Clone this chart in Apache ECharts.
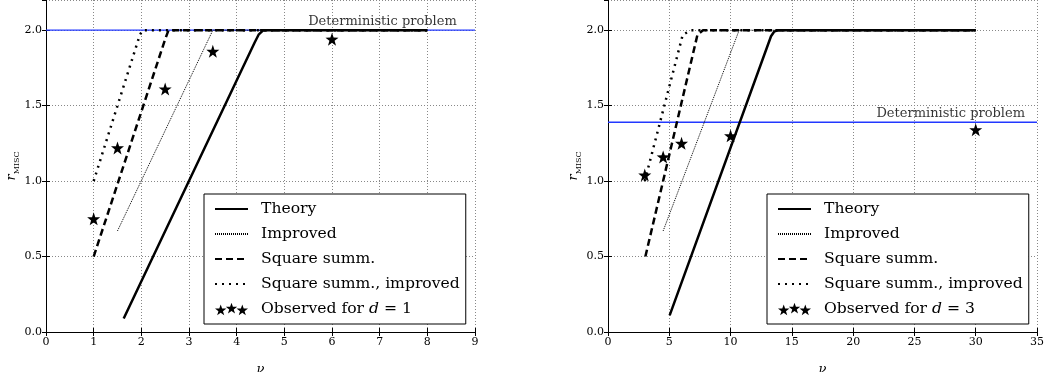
<!DOCTYPE html>
<html>
<head>
<meta charset="utf-8">
<script src="https://cdn.jsdelivr.net/npm/echarts@6/dist/echarts.min.js"></script>
<style>
html,body{margin:0;padding:0;background:#fff;}
#c{width:1044px;height:372px;}
</style>
</head>
<body>
<div id="c"></div>
<script>
// ---------- data: left panel (d = 1) ----------
const xTicks1 = [0, 9, 1];           // min, max, interval
const theoryNu1 = [1.63, 4.38, 4.46, 4.56, 8.0];
const theoryR1  = [0.09, 1.92, 1.97, 2.0, 2.0];
const improvedNu1 = [1.5, 3.5, 8.0];
const improvedR1  = [0.67, 2.0, 2.0];
const squareNu1 = [1.0, 2.5, 2.57, 8.0];
const squareR1  = [0.5, 1.94, 2.0, 2.0];
const sqImpNu1 = [1.0, 1.97, 2.03, 8.0];
const sqImpR1  = [1.0, 1.97, 2.0, 2.0];
const obsNu1 = [1, 1.5, 2.5, 3.5, 6];
const obsR1  = [0.75, 1.22, 1.61, 1.86, 1.94];
const detR1 = 2.0;
const detLabelNu1 = 5.5;

// ---------- data: right panel (d = 3) ----------
const xTicks3 = [0, 35, 5];
const theoryNu3 = [5.03, 13.3, 13.55, 13.9, 30.0];
const theoryR3  = [0.11, 1.96, 1.99, 2.0, 2.0];
const improvedNu3 = [4.5, 10.7, 30.0];
const improvedR3  = [0.67, 2.0, 2.0];
const squareNu3 = [3.05, 7.3, 7.75, 30.0];
const squareR3  = [0.5, 1.97, 2.0, 2.0];
const sqImpNu3 = [3.0, 6.1, 6.8, 30.0];
const sqImpR3  = [1.0, 1.97, 2.0, 2.0];
const obsNu3 = [3, 4.5, 6, 10, 30];
const obsR3  = [1.04, 1.16, 1.25, 1.30, 1.34];
const detR3 = 1.39;
const detLabelNu3 = 21.9;

const yRange = [0, 2.2, 0.5];
const names = ['Theory', 'Improved', 'Square summ.', 'Square summ., improved'];
const obsName1 = 'Observed for d = 1';
const obsName3 = 'Observed for d = 3';
const detText = 'Deterministic problem';

// ---------- styles ----------
const FONT = 'DejaVu Serif';
function starAt(dx, dy) {
  const pts = [[0,-10],[2.35,-3.24],[9.51,-3.09],[3.8,1.24],[5.88,8.09],[0,4],[-5.88,8.09],[-3.8,1.24],[-9.51,-3.09],[-2.35,-3.24]];
  return 'M' + pts.map(p => (p[0]+dx).toFixed(2) + ',' + (p[1]+dy).toFixed(2)).join('L') + 'Z';
}
const STAR = 'path://' + starAt(0, 0);
const STAR3 = 'path://' + starAt(10, 13) + starAt(28, 10) + starAt(46, 13);

const lineStyles = [
  {color: '#000', width: 2.5, type: 'solid'},
  {color: '#000', width: 1, type: [1, 1]},
  {color: '#000', width: 2.5, type: [7, 4]},
  {color: '#000', width: 2.5, type: [2, 5]}
];

const zip = (a, b) => a.map((v, i) => [v, b[i]]);

const grids = [
  {left: 46, top: 0, width: 429, height: 332, outerBoundsMode: 'none', containLabel: false},
  {left: 608, top: 0, width: 429, height: 332, outerBoundsMode: 'none', containLabel: false}
];

function xAxes(gi, t) {
  const common = {
    type: 'value', gridIndex: gi, min: t[0], max: t[1], interval: t[2]
  };
  return [
    Object.assign({}, common, {
      position: 'bottom',
      name: 'ν', nameLocation: 'middle', nameGap: 31,
      nameTextStyle: {fontFamily: FONT, fontStyle: 'italic', fontSize: 13, color: '#000'},
      axisLine: {show: true, lineStyle: {color: '#000', width: 1}},
      axisTick: {show: true, inside: true, length: 4, lineStyle: {color: '#000'}},
      axisLabel: {show: true, fontFamily: FONT, fontSize: 11, color: '#000', margin: 5},
      splitLine: {show: true, lineStyle: {color: '#888', type: [1, 2], width: 1}}
    }),
    Object.assign({}, common, {
      position: 'top',
      axisLine: {show: true, lineStyle: {color: '#000', width: 1}},
      axisTick: {show: true, inside: true, length: 4, lineStyle: {color: '#000'}},
      axisLabel: {show: false},
      splitLine: {show: false}
    })
  ];
}
function yAxes(gi) {
  const common = {
    type: 'value', gridIndex: gi, min: yRange[0], max: yRange[1], interval: yRange[2]
  };
  return [
    Object.assign({}, common, {
      position: 'left',
      name: '{r|r}{s|MISC}', nameLocation: 'middle', nameGap: 24, nameRotate: 90,
      nameTextStyle: {
        fontFamily: FONT, color: '#000',
        rich: {
          r: {fontFamily: FONT, fontStyle: 'italic', fontSize: 13, color: '#000', lineHeight: 18, verticalAlign: 'middle'},
          s: {fontFamily: FONT, fontSize: 8, color: '#000', lineHeight: 18, verticalAlign: 'bottom', padding: [5, 0, 0, 0]}
        }
      },
      axisLine: {show: true, lineStyle: {color: '#000', width: 1}},
      axisTick: {show: true, inside: true, length: 4, lineStyle: {color: '#000'}},
      axisLabel: {show: true, fontFamily: FONT, fontSize: 11, color: '#000', margin: 4,
        showMaxLabel: false, formatter: v => v.toFixed(1)},
      splitLine: {show: true, lineStyle: {color: '#888', type: [1, 2], width: 1}}
    }),
    Object.assign({}, common, {
      position: 'right',
      axisLine: {show: true, lineStyle: {color: '#000', width: 1}},
      axisTick: {show: true, inside: true, length: 4, lineStyle: {color: '#000'}},
      axisLabel: {show: false},
      splitLine: {show: false}
    })
  ];
}

function panelSeries(ax, ay, t, detR, detLabelNu, curves, obsNu, obsR, obsName) {
  const out = [];
  // deterministic (blue) horizontal line
  out.push({
    type: 'line', name: '_det' + ax, xAxisIndex: ax, yAxisIndex: ay,
    data: [[t[0], detR], [t[1], detR]],
    symbol: 'none', showSymbol: false, silent: true, animation: false,
    lineStyle: {color: '#2238ff', width: 1.3}, z: 1
  });
  out.push({
    type: 'scatter', name: '_detlabel' + ax, xAxisIndex: ax, yAxisIndex: ay,
    data: [[detLabelNu, detR]], symbol: 'circle', symbolSize: 0, silent: true, animation: false,
    itemStyle: {color: 'rgba(0,0,0,0)'},
    label: {show: true, formatter: detText, position: 'top', align: 'left', distance: 2,
      fontFamily: FONT, fontSize: 13, color: '#000'},
    z: 5
  });
  curves.forEach((c, i) => {
    out.push({
      type: 'line', name: names[i], xAxisIndex: ax, yAxisIndex: ay,
      data: zip(c[0], c[1]), symbol: 'none', showSymbol: false, animation: false,
      lineStyle: lineStyles[i], itemStyle: {color: '#000'}, z: 3
    });
  });
  out.push({
    type: 'scatter', name: obsName, xAxisIndex: ax, yAxisIndex: ay,
    data: zip(obsNu, obsR), symbol: STAR, symbolSize: 13, animation: false,
    itemStyle: {color: '#000', opacity: 1}, z: 4
  });
  return out;
}

function legend(left, obsName, dval) {
  return {
    show: true,
    left: left, top: 194, orient: 'vertical',
    backgroundColor: '#fff', borderColor: '#000', borderWidth: 1,
    padding: [6, 6, 6, 10], itemGap: 7, itemWidth: 33, itemHeight: 15,
    selectedMode: false,
    textStyle: {fontFamily: FONT, fontSize: 15.6, color: '#000', lineHeight: 18, padding: [0, 0, 0, 8],
      rich: {
        n: {fontFamily: FONT, fontSize: 15.6, color: '#000', lineHeight: 18},
        i: {fontFamily: FONT, fontSize: 15.6, color: '#000', fontStyle: 'italic', lineHeight: 18}
      }},
    formatter: function (name) {
      if (name === obsName) return '{n|Observed for }{i|d}{n| = ' + dval + '}';
      return name;
    },
    data: names.concat([obsName]).map(n => n === obsName
      ? {name: n, icon: STAR3, itemStyle: {color: '#000', opacity: 1}}
      : {name: n, itemStyle: {color: 'rgba(0,0,0,0)', opacity: 0, borderWidth: 0}})
  };
}

const chart = echarts.init(document.getElementById('c'), null, {renderer: 'canvas'});
chart.setOption({
  backgroundColor: '#fff',
  animation: false,
  grid: grids,
  xAxis: xAxes(0, xTicks1).concat(xAxes(1, xTicks3)),
  yAxis: yAxes(0).concat(yAxes(1)),
  legend: [legend(204, obsName1, 1), legend(767, obsName3, 3)],
  series: panelSeries(0, 0, xTicks1, detR1, detLabelNu1,
      [[theoryNu1, theoryR1], [improvedNu1, improvedR1], [squareNu1, squareR1], [sqImpNu1, sqImpR1]],
      obsNu1, obsR1, obsName1)
    .concat(panelSeries(2, 2, xTicks3, detR3, detLabelNu3,
      [[theoryNu3, theoryR3], [improvedNu3, improvedR3], [squareNu3, squareR3], [sqImpNu3, sqImpR3]],
      obsNu3, obsR3, obsName3))
});
</script>
</body>
</html>
